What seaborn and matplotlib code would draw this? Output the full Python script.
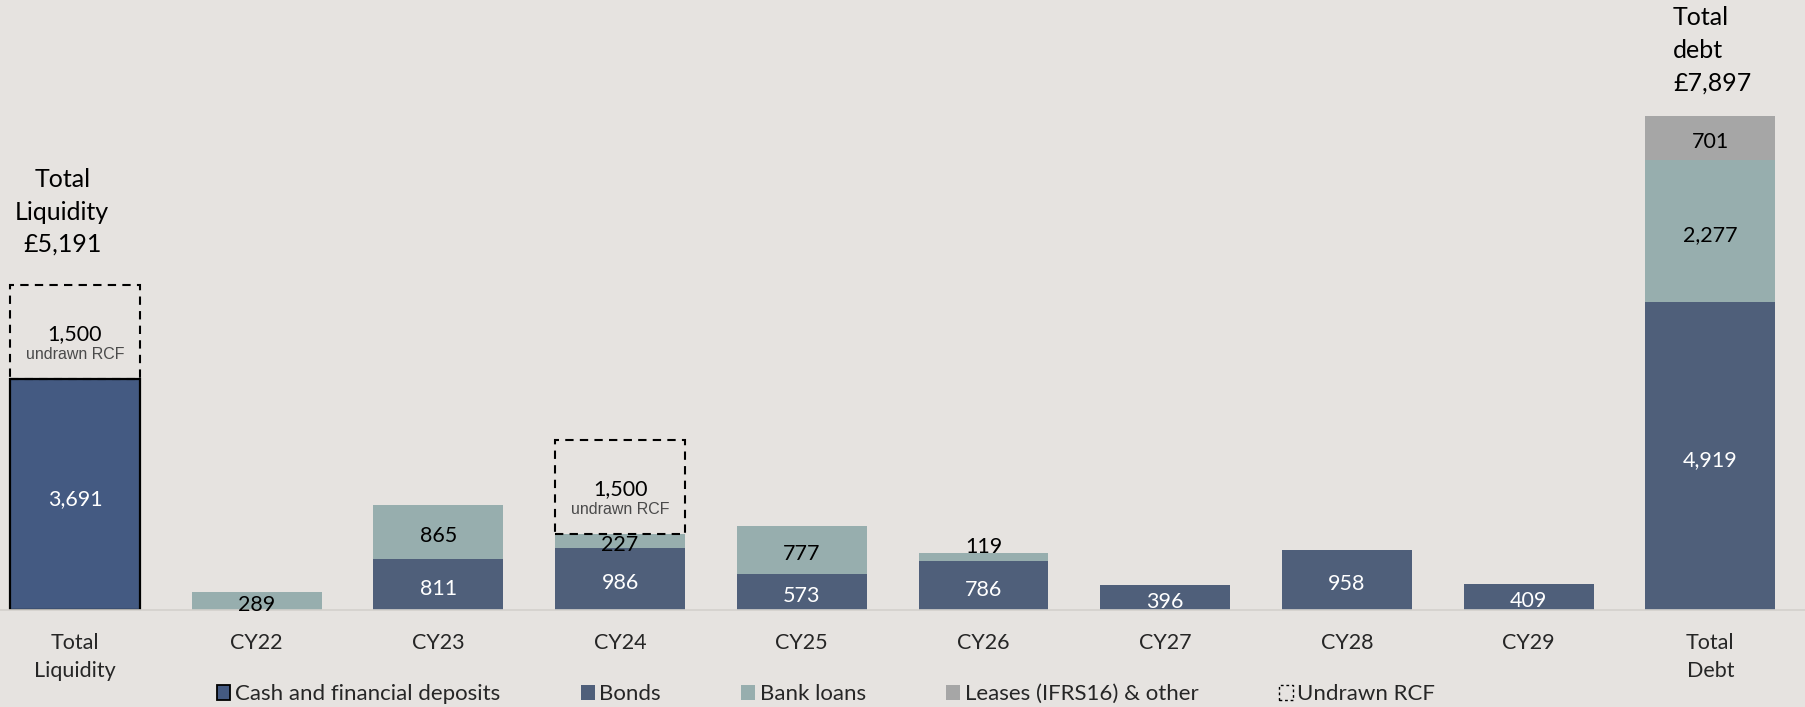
import matplotlib
matplotlib.use("Agg")
import matplotlib.pyplot as plt
import seaborn as sns
import pandas as pd
import numpy as np
from matplotlib.patches import Patch

# ---------------- data ----------------
categories = ["Total\nLiquidity", "CY22", "CY23", "CY24", "CY25", "CY26",
              "CY27", "CY28", "CY29", "Total\nDebt"]
cash = [3691, 0, 0, 0, 0, 0, 0, 0, 0, 0]
bonds = [0, 0, 811, 986, 573, 786, 396, 958, 409, 4919]
bank_loans = [0, 289, 865, 227, 777, 119, 0, 0, 0, 2277]
leases = [0, 0, 0, 0, 0, 0, 0, 0, 0, 701]
undrawn_rcf = [1500, 0, 0, 1500, 0, 0, 0, 0, 0, 0]
legend_labels = ["Cash and financial deposits", "Bonds", "Bank loans",
                 "Leases (IFRS16) & other", "Undrawn RCF"]
total_liquidity_label = "Total\nLiquidity\n£5,191"
total_debt_label = "Total\ndebt\n£7,897"
rcf_caption = "undrawn RCF"

# ---------------- style ----------------
BG = "#E6E3E0"
C_CASH = "#445A82"
C_BONDS = "#4F5F7A"
C_BANK = "#97AEAE"
C_LEASE = "#A6A6A6"
FONT = ["Lato", "DejaVu Sans"]

sns.set_theme(style="white")
plt.rcParams["font.family"] = FONT

fig = plt.figure(figsize=(18.06, 7.07), dpi=100, facecolor=BG)
ax = fig.add_axes([0, 97 / 707, 1, 610 / 707])
ax.set_facecolor(BG)

df = pd.DataFrame({"cat": categories, "cash": cash, "bonds": bonds,
                   "bank": bank_loans, "leases": leases, "rcf": undrawn_rcf})
df["top_cash"] = df["cash"]
df["top_bonds"] = df["cash"] + df["bonds"]
df["top_bank"] = df["top_bonds"] + df["bank"]
df["top_leases"] = df["top_bank"] + df["leases"]

W = 0.715
layers = [("top_leases", "leases", C_LEASE), ("top_bank", "bank", C_BANK),
          ("top_bonds", "bonds", C_BONDS)]
for top, own, col in layers:
    sub = df[df[own] > 0]
    sns.barplot(data=sub, x="cat", y=top, order=categories, color=col,
                width=W, linewidth=0, saturation=1, ax=ax)

sub = df[df["cash"] > 0]
sns.barplot(data=sub, x="cat", y="top_cash", order=categories, color=C_CASH,
            width=W, saturation=1, edgecolor="black", linewidth=1.6, ax=ax)

# dashed undrawn RCF boxes on top of the stacks
sub = df[df["rcf"] > 0]
xpos = [categories.index(c) for c in sub["cat"]]
ax.bar(xpos, sub["rcf"], bottom=sub["top_leases"], width=W, facecolor="none",
       edgecolor="black", linestyle=(0, (4, 3)), linewidth=1.5, zorder=3)

# ---------------- labels ----------------
VAL_FS = 15.5
DY = -3.0  # points


def label(x, y, s, color, va="center", dy=DY, fs=VAL_FS, **kw):
    ax.annotate(s, (x, y), xytext=(0, dy), textcoords="offset points",
                ha="center", va=va, fontsize=fs, color=color, **kw)


for i, row in df.iterrows():
    base = 0
    for key, col in [("cash", "white"), ("bonds", "white"), ("bank", "black"),
                     ("leases", "black")]:
        v = row[key]
        if v > 0:
            if v < 150:
                label(i, base + v, f"{v:,}", col, va="bottom", dy=-2.5)
            else:
                label(i, base + v / 2, f"{v:,}", col)
            base += v
    if row["rcf"] > 0:
        mid = base + row["rcf"] / 2
        label(i, mid + 30, f"{row['rcf']:,}", "black")
        label(i, mid - 295, rcf_caption, "#4A4A4A", fs=11.5,
              family=["Liberation Sans", "DejaVu Sans"])

ax.text(-0.07, 6362, total_liquidity_label, ha="center", va="center",
        fontsize=18, linespacing=1.5, color="black")
ax.text(8.795, 8947, total_debt_label, ha="left", va="center",
        fontsize=18, linespacing=1.5, color="black")

# ---------------- axes ----------------
ax.set_xlim(-75 / 181.7, (1806 - 75) / 181.7)
ax.set_ylim(0, 9751)
ax.set_xlabel("")
ax.set_ylabel("")
ax.set_yticks([])
ax.set_xticks(range(len(categories)))
ax.set_xticklabels(categories, fontsize=15.5, linespacing=1.5)
ax.tick_params(axis="x", length=0, pad=16.5)
for s in ["top", "left", "right"]:
    ax.spines[s].set_visible(False)
ax.spines["bottom"].set_color("#D3D0CC")
ax.spines["bottom"].set_linewidth(1.2)

# ---------------- legend ----------------
handles = [Patch(facecolor=C_CASH, edgecolor="black", linewidth=1.3),
           Patch(facecolor=C_BONDS, edgecolor="none"),
           Patch(facecolor=C_BANK, edgecolor="none"),
           Patch(facecolor=C_LEASE, edgecolor="none"),
           Patch(facecolor="none", edgecolor="black", linestyle=(0, (2, 2)), linewidth=1)]
leg = fig.legend(handles, legend_labels, ncol=5, loc="center left",
                 bbox_to_anchor=(0.12, 0.018), frameon=False,
                 prop={"family": FONT, "size": 16},
                 handlelength=0.62, handleheight=0.72, handletextpad=0.2,
                 columnspacing=3.63, borderaxespad=0, borderpad=0)

fig.savefig("out.png", dpi=100, facecolor=BG)
